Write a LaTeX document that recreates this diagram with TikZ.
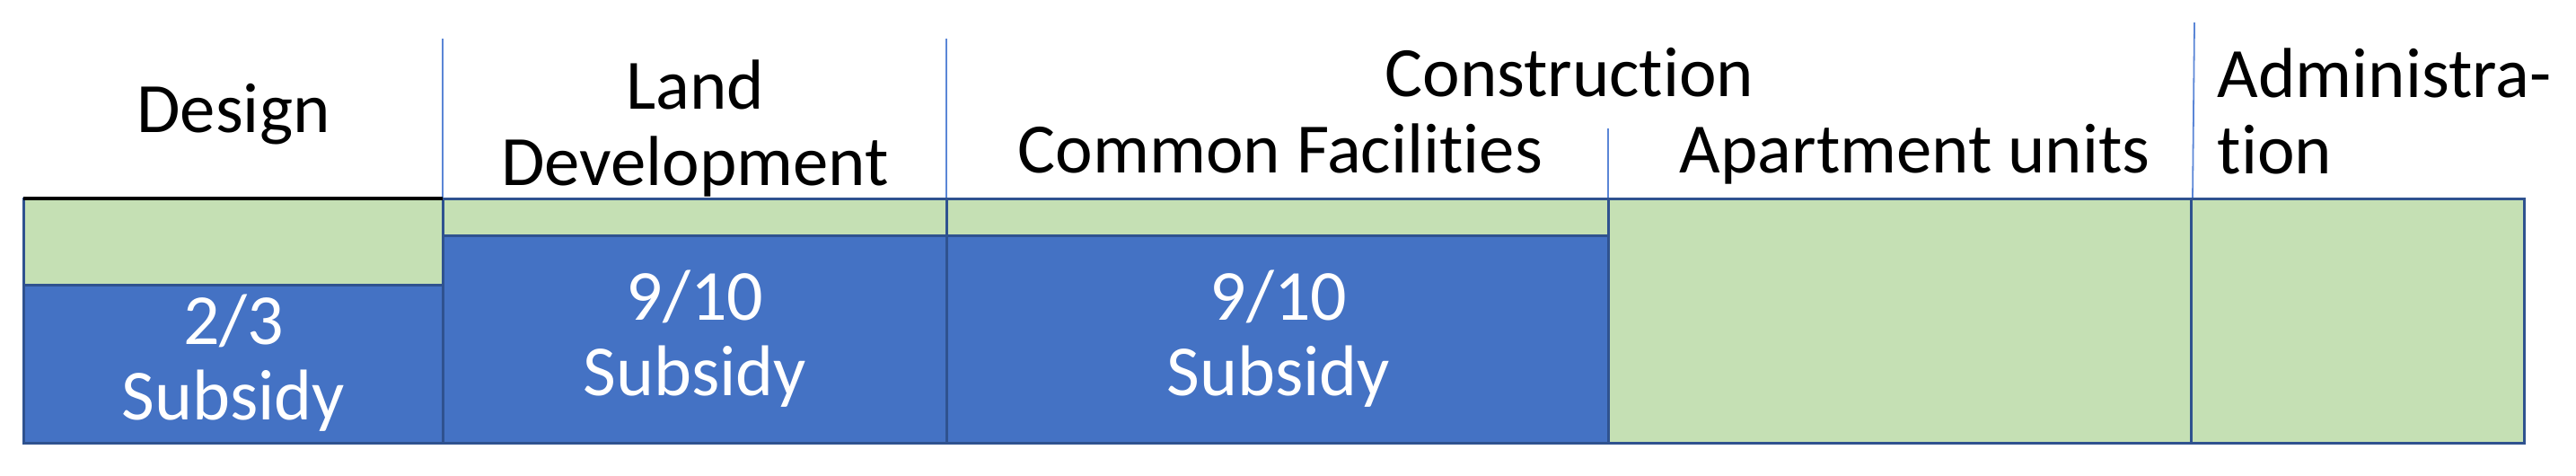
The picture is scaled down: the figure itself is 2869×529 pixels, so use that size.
\documentclass[tikz,border=0pt]{standalone}
\usepackage{fontspec}
\setmainfont{Carlito}[Ligatures=NoCommon]
\definecolor{cellgreen}{HTML}{C5E0B4}
\definecolor{cellblue}{HTML}{4472C4}
\definecolor{cellborder}{HTML}{2F528F}
\definecolor{headline}{HTML}{5B86D6}
\tikzset{
  greencell/.style={fill=cellgreen, draw=cellborder, line width=0.75pt},
  bluecell/.style={fill=cellblue, draw=cellborder, line width=0.75pt},
  divider/.style={draw=headline, line width=0.45pt},
  head/.style={inner sep=0pt, anchor=base, text=black, font=\fontsize{19.7}{21}\selectfont},
  headleft/.style={head, anchor=base west},
  subs/.style={inner sep=0pt, anchor=base, text=white, font=\fontsize{20}{21}\selectfont},
}
\begin{document}
\begin{tikzpicture}[x=0.25pt, y=-0.25pt]
\useasboundingbox (0,0) rectangle (2869,529);
% header dividers
\coordinate (d1t) at (493,43);   \coordinate (d1b) at (493,221);
\coordinate (d2t) at (1054,43);  \coordinate (d2b) at (1054,221);
\coordinate (d3t) at (1791,143); \coordinate (d3b) at (1791,221);
\coordinate (d4t) at (2444,25);  \coordinate (d4b) at (2442,221);
\draw[divider] (d1t) -- (d1b);
\draw[divider] (d2t) -- (d2b);
\draw[divider] (d3t) -- (d3b);
\draw[divider] (d4t) -- (d4b);
% cells
\draw[greencell] (26,221) rectangle (493,317);
\draw[bluecell]  (26,317) rectangle (493,493);
\draw[greencell] (493,221) rectangle (1054,262);
\draw[bluecell]  (493,262) rectangle (1054,493);
\draw[greencell] (1054,221) rectangle (1791,262);
\draw[bluecell]  (1054,262) rectangle (1791,493);
\draw[greencell] (1791,221) rectangle (2440,493);
\draw[greencell] (2440,221) rectangle (2811,493);
\draw[black, line width=0.8pt] (26,221) -- (493,221);
% headings
\node[head] (design) at (260,147) {Design};
\node[head] (land1) at (774,121) {Land};
\node[head] (land2) at (774,206) {Development};
\node[head] (constr) at (1748,107) {Construction};
\node[head] (common) at (1426,192) {Common Facilities};
\node[headleft] (apart) at (1870,192) {Apartment units};
\node[headleft] (admin1) at (2469,108) {Administra-};
\node[headleft] (admin2) at (2469,193) {tion};
% subsidies
\node[subs] (s1a) at (260,383) {2/3};
\node[subs] (s1b) at (260,467) {Subsidy};
\node[subs] (s2a) at (774,356) {9/10};
\node[subs] (s2b) at (774,440) {Subsidy};
\node[subs] (s3a) at (1424,356) {9/10};
\node[subs] (s3b) at (1424,440) {Subsidy};
\end{tikzpicture}
\end{document}
